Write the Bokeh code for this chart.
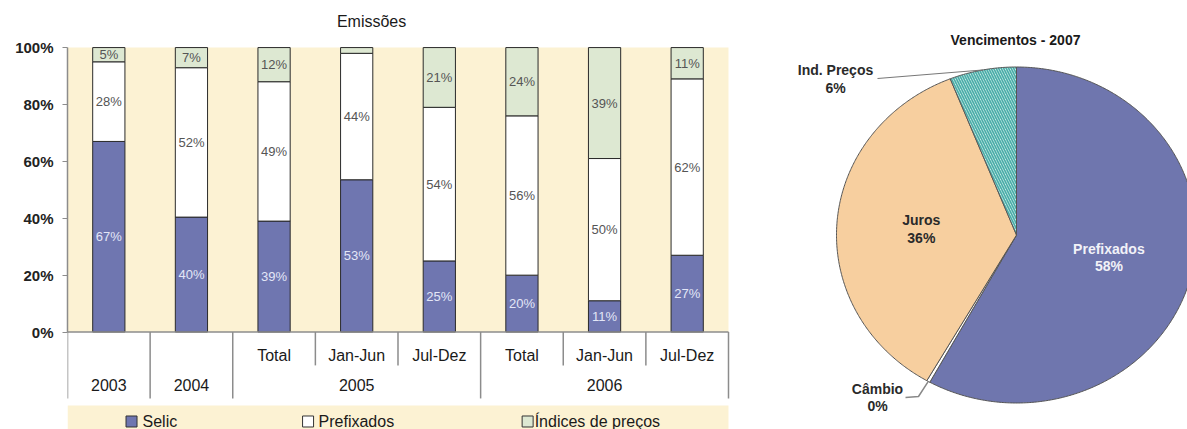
import numpy as np
from bokeh.plotting import figure
from bokeh.models import Range1d, FixedTicker, NumeralTickFormatter, ColumnDataSource
from bokeh.layouts import row
from bokeh.embed import file_html
from bokeh.resources import INLINE
from bokeh.core.properties import value

# ---------------- data ----------------
bar_title = "Emissões"
groups = ["2003", "2004", "2005", "2005", "2005", "2006", "2006", "2006"]
periods = ["", "", "Total", "Jan-Jun", "Jul-Dez", "Total", "Jan-Jun", "Jul-Dez"]
selic = [67, 40, 39, 53, 25, 20, 11, 27]
prefixados = [28, 52, 49, 44, 54, 56, 50, 62]
indices = [5, 7, 12, 2, 21, 24, 39, 11]
series_names = ["Selic", "Prefixados", "Índices de preços"]

pie_title = "Vencimentos - 2007"
pie_names = ["Prefixados", "Câmbio", "Juros", "Ind. Preços"]
pie_values = [58, 0.3, 35.7, 6]

# ---------------- styles ----------------
FONT = "Liberation Sans"
BEIGE = "#fcf2d3"
C_SELIC = "#6f76b0"
C_PREF = "#ffffff"
C_IND = "#dde8d2"
AXIS_GREY = "#8c8c8c"

# ---------------- bar chart ----------------
n = len(groups)
unit = 284.0  # px per 100%
p = figure(width=760, height=429,
           x_range=Range1d(0, 8 + 4 / 82.6),
           y_range=Range1d(-(429 - 331.7) / unit, 1 + 47 / unit),
           output_backend="svg", toolbar_location=None,
           min_border_left=67, min_border_right=28, min_border_top=0, min_border_bottom=0,
           x_axis_location=None, y_axis_location="left")
p.xgrid.visible = False
p.ygrid.visible = False
p.outline_line_color = None
p.background_fill_color = "white"
p.border_fill_color = "white"

yax = p.yaxis[0]
yax.bounds = (0, 1)
yax.ticker = FixedTicker(ticks=[0, 0.2, 0.4, 0.6, 0.8, 1.0])
yax.formatter = NumeralTickFormatter(format="0%")
yax.minor_tick_line_color = None
yax.major_tick_in = 0
yax.major_tick_out = 5
yax.major_tick_line_color = AXIS_GREY
yax.axis_line_color = AXIS_GREY
yax.axis_line_width = 1.5
yax.major_label_standoff = 9
yax.major_label_text_font = FONT
yax.major_label_text_font_style = "bold"
yax.major_label_text_font_size = "15px"
yax.major_label_text_color = "#222222"

# plot-area background
p.quad(left=[0], right=[n], bottom=[0], top=[1], fill_color=BEIGE, line_color=None)

# stacked shares
vals = np.array([selic, prefixados, indices], dtype=float)
shares = vals / vals.sum(axis=0)
cum = np.cumsum(shares, axis=0)
bottoms = np.vstack([np.zeros(n), cum[:-1]])
x = np.arange(n) + 0.5
colors = [C_SELIC, C_PREF, C_IND]
label_colors = ["#e3e6f7", "#555555", "#555555"]
for k in range(3):
    p.vbar(x=x, bottom=bottoms[k], top=cum[k], width=0.39,
           fill_color=colors[k], line_color="#2a2a2a", line_width=1)
    txt = [f"{int(v)}%" if v >= 5 else "" for v in vals[k]]
    p.text(x=x, y=(bottoms[k] + cum[k]) / 2, text=txt,
           text_font=value(FONT), text_font_size="13px", text_color=label_colors[k],
           text_align="center", text_baseline="middle")

# category table below the bars
full_end = -(398 - 331.7) / unit
short_end = -(365 - 331.7) / unit
p.segment(x0=[0], y0=[0], x1=[n], y1=[0], line_color=AXIS_GREY, line_width=1.5)
bounds = [0] + [i for i in range(1, n) if groups[i] != groups[i - 1]] + [n]
inner = [i for i in range(1, n) if groups[i] == groups[i - 1]]
p.segment(x0=bounds, y0=[0] * len(bounds), x1=bounds, y1=[full_end] * len(bounds),
          line_color=AXIS_GREY, line_width=1.5)
p.segment(x0=inner, y0=[0] * len(inner), x1=inner, y1=[short_end] * len(inner),
          line_color=AXIS_GREY, line_width=1.5)
p.text(x=x, y=[-(355 - 331.7) / unit] * n, text=periods,
       text_font=value(FONT), text_font_size="16px", text_color="#1a1a1a",
       text_align="center", text_baseline="middle")
gx = [(bounds[j] + bounds[j + 1]) / 2 for j in range(len(bounds) - 1)]
gl = [groups[bounds[j]] for j in range(len(bounds) - 1)]
p.text(x=gx, y=[-(385 - 331.7) / unit] * len(gx), text=gl,
       text_font=value(FONT), text_font_size="16px", text_color="#1a1a1a",
       text_align="center", text_baseline="middle")

# title
p.text(x=[(371 - 67) / 82.6], y=[1 + (47 - 21) / unit], text=[bar_title],
       text_font=value(FONT), text_font_size="16px", text_color="#1a1a1a",
       text_align="center", text_baseline="middle")

# legend band
leg_y = -(421 - 331.7) / unit
p.quad(left=[0], right=[n], bottom=[-(429 - 331.7) / unit], top=[-(405 - 331.7) / unit],
       fill_color=BEIGE, line_color=None)
leg_sq_x = [(131 - 67) / 82.6, (307.5 - 67) / 82.6, (527 - 67) / 82.6]
leg_tx_x = [(142 - 67) / 82.6, (318 - 67) / 82.6, (534 - 67) / 82.6]
p.scatter(x=leg_sq_x, y=[leg_y] * 3, marker="square", size=11,
          fill_color=colors, line_color="#333333", line_width=1)
p.text(x=leg_tx_x, y=[leg_y] * 3, text=series_names,
       text_font=value(FONT), text_font_size="16px", text_color="#1a1a1a",
       text_align="left", text_baseline="middle")

# ---------------- pie chart ----------------
q = figure(width=427, height=429,
           x_range=Range1d(-256, 171), y_range=Range1d(-194.5, 234.5),
           output_backend="svg", toolbar_location=None,
           min_border=0, x_axis_location=None, y_axis_location=None)
q.xgrid.visible = False
q.ygrid.visible = False
q.outline_line_color = None
q.background_fill_color = "white"
q.border_fill_color = "white"

RX, RY = 180.0, 168.0
pv = np.array(pie_values, dtype=float)
frac = pv / pv.sum()
ends = 90 - 360 * np.cumsum(frac)
starts = np.concatenate([[90], ends[:-1]])
xs, ys = [], []
for a0, a1 in zip(starts, ends):
    t = np.radians(np.linspace(a0, a1, max(3, int(abs(a1 - a0)) * 2 + 2)))
    xs.append(np.concatenate([[0], RX * np.cos(t), [0]]).tolist())
    ys.append(np.concatenate([[0], RY * np.sin(t), [0]]).tolist())
pie_src = ColumnDataSource(dict(
    xs=xs, ys=ys,
    fill=["#6f76ae", "#ffffff", "#f7cf9f", "#e8f6f5"],
    hatch=[" ", " ", " ", "\\"],
))
q.patches(xs="xs", ys="ys", source=pie_src, fill_color="fill",
          hatch_pattern="hatch", hatch_color="#4aaea9", hatch_scale=5, hatch_weight=1.7,
          line_color="#555555", line_width=1)

mids = np.radians((starts + ends) / 2)
pct = [f"{round(v)}%" for v in pv]
# inside labels (Prefixados, Juros)
inside = [0, 2]
fr = 0.53
q.text(x=[fr * RX * np.cos(mids[i]) for i in inside],
       y=[fr * RY * np.sin(mids[i]) + 8.5 for i in inside],
       text=[pie_names[i] for i in inside],
       text_font=value(FONT), text_font_style="bold", text_font_size="14px",
       text_color=["#f2f2f8", "#2a2a2a"], text_align="center", text_baseline="middle")
q.text(x=[fr * RX * np.cos(mids[i]) for i in inside],
       y=[fr * RY * np.sin(mids[i]) - 9 for i in inside],
       text=[pct[i] for i in inside],
       text_font=value(FONT), text_font_style="bold", text_font_size="14px",
       text_color=["#f2f2f8", "#2a2a2a"], text_align="center", text_baseline="middle")

# outside labels with leaders (Ind. Preços, Câmbio)
out_x = [835 - 1016, 877 - 1016]
out_y1 = [234.5 - 69, 234.5 - 388]
out_y2 = [234.5 - 87, 234.5 - 405]
outside = [3, 1]
q.text(x=out_x, y=out_y1, text=[pie_names[i] for i in outside],
       text_font=value(FONT), text_font_style="bold", text_font_size="14px",
       text_color="#2a2a2a", text_align="center", text_baseline="middle")
q.text(x=out_x, y=out_y2, text=[pct[i] for i in outside],
       text_font=value(FONT), text_font_style="bold", text_font_size="14px",
       text_color="#2a2a2a", text_align="center", text_baseline="middle")
m3, m1 = mids[3], mids[1]
q.line(x=[877 - 1016, RX * np.cos(m3)], y=[234.5 - 78, RY * np.sin(m3)],
       line_color="#777777", line_width=1)
q.line(x=[905 - 1016, 918 - 1016, RX * np.cos(m1)],
       y=[234.5 - 397, 234.5 - 396, RY * np.sin(m1)],
       line_color="#888888", line_width=1.5)

q.text(x=[1015 - 1016], y=[234.5 - 39], text=[pie_title],
       text_font=value(FONT), text_font_style="bold", text_font_size="14px",
       text_color="#1a1a1a", text_align="center", text_baseline="middle")

layout = row(p, q, spacing=0)
open("out.html", "w").write(file_html(layout, INLINE))
